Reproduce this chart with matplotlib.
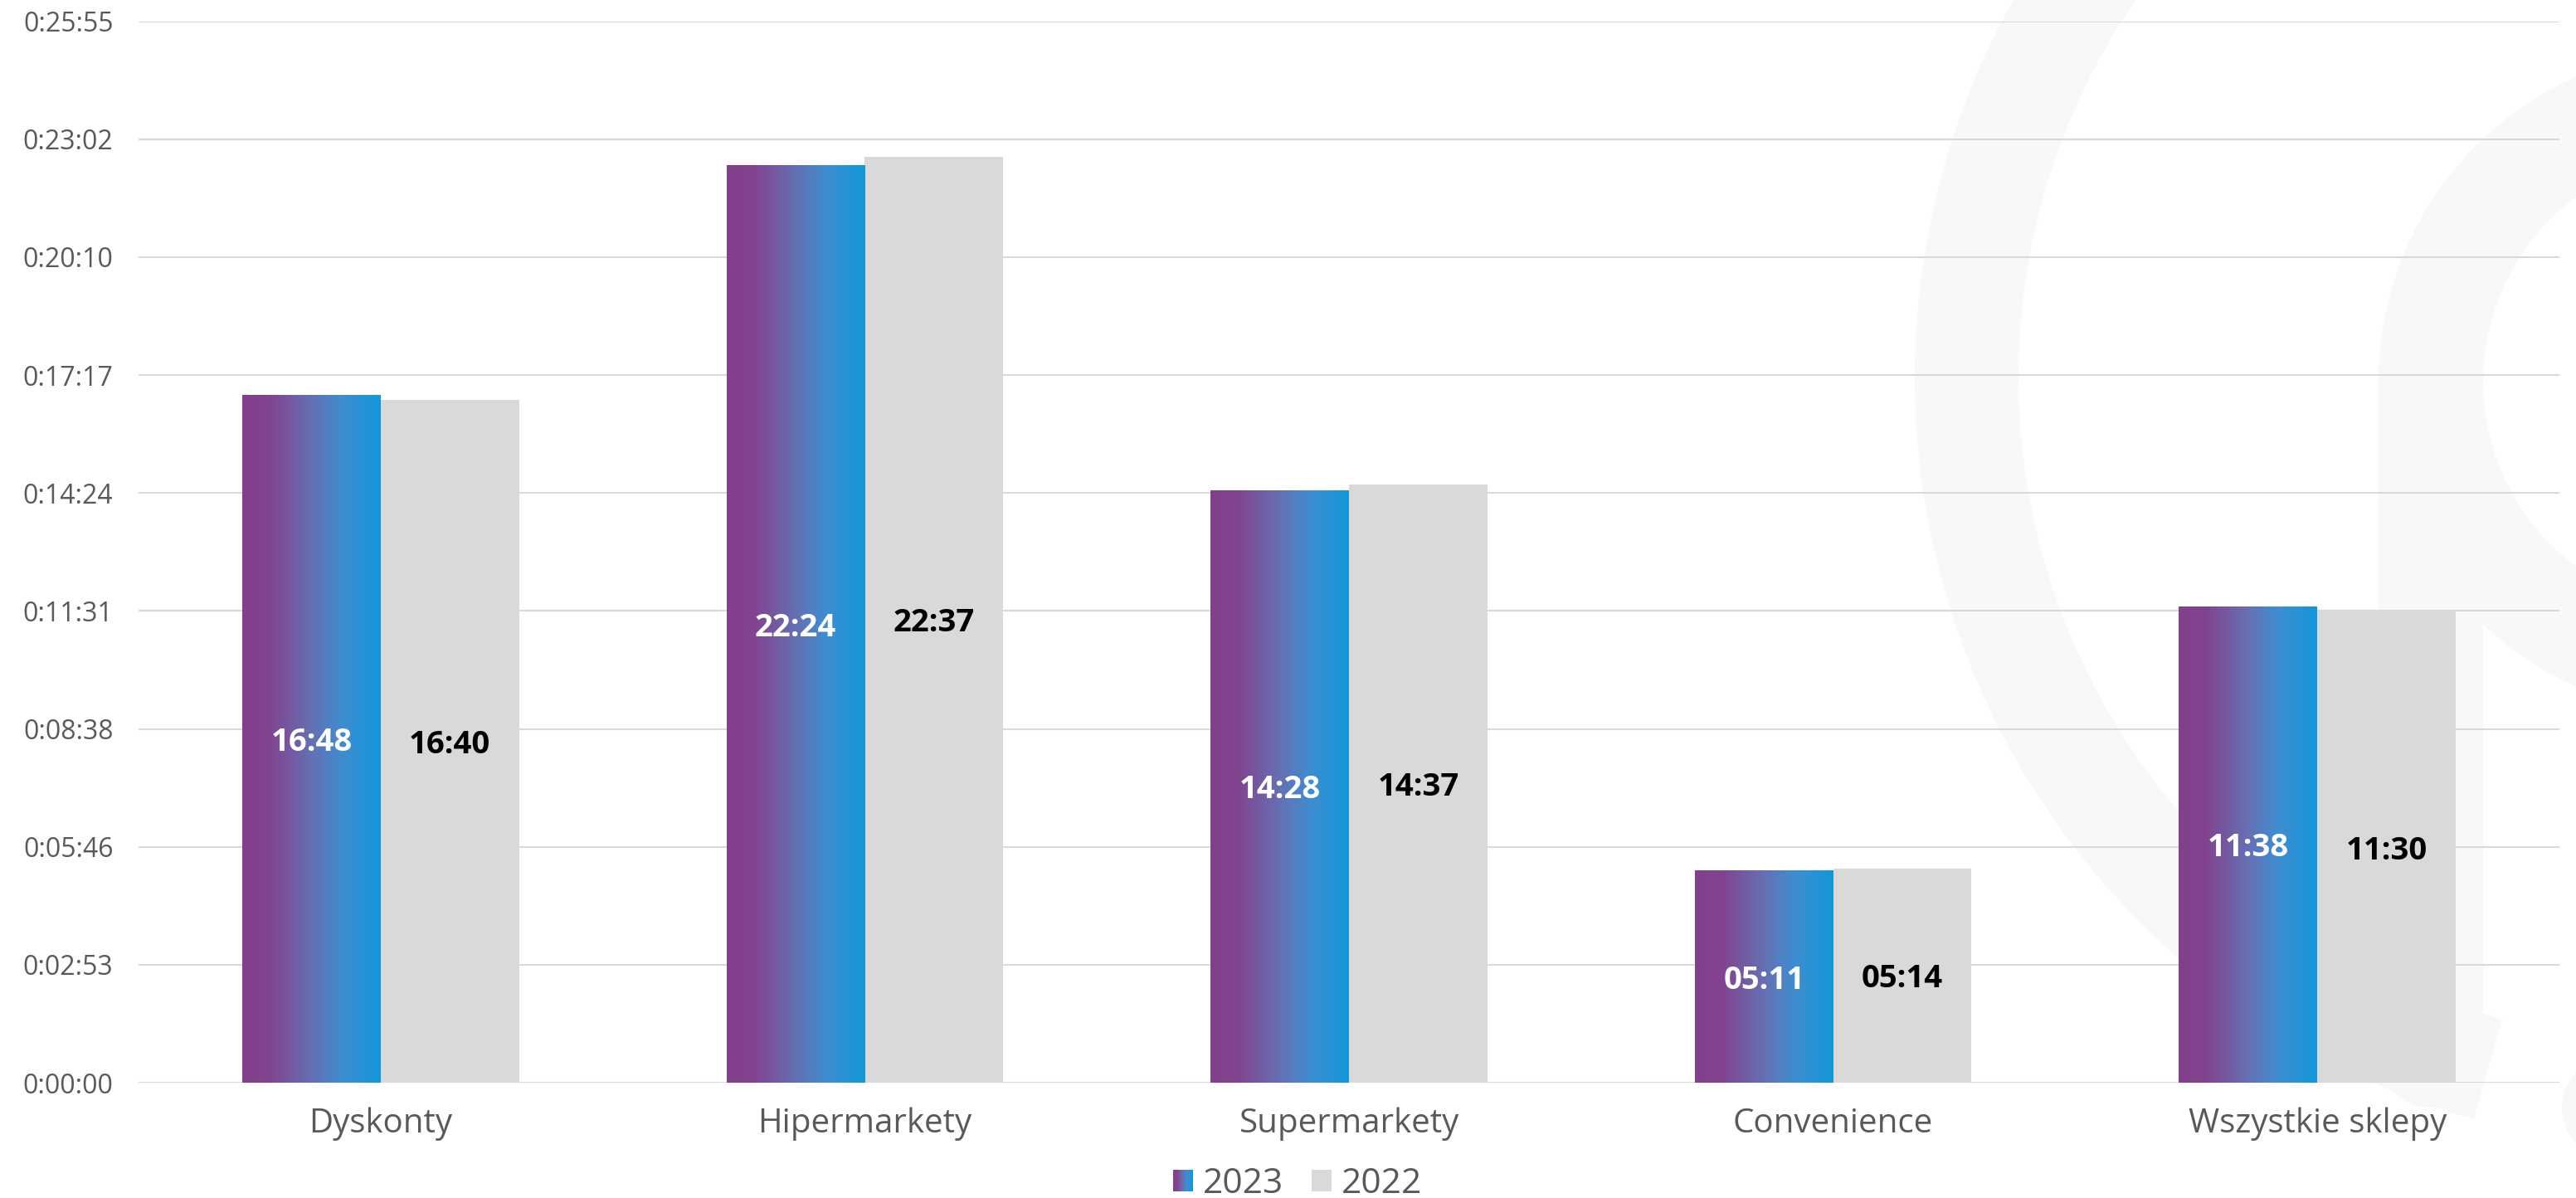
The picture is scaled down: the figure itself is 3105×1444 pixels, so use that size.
import numpy as np
import matplotlib.pyplot as plt
from matplotlib.colors import LinearSegmentedColormap
from matplotlib.patches import Rectangle, Wedge, Circle
from matplotlib.legend_handler import HandlerBase
from matplotlib.ticker import MultipleLocator, FuncFormatter

plt.rcParams['font.family'] = ['Open Sans', 'DejaVu Sans']

# average visit time per store format, mm:ss
categories = ['Dyskonty', 'Hipermarkety', 'Supermarkety', 'Convenience', 'Wszystkie sklepy']
times_2023 = ['16:48', '22:24', '14:28', '05:11', '11:38']
times_2022 = ['16:40', '22:37', '14:37', '05:14', '11:30']
series_names = ['2023', '2022']

# axis in seconds, Excel-style time steps (0.002 day)
y_step = 172.8
y_max = 1555.2


def to_seconds(t):
    m, s = t.split(':')
    return int(m) * 60 + int(s)


def hms(v, pos=None):
    v = int(round(v))
    return '%d:%02d:%02d' % (v // 3600, (v % 3600) // 60, v % 60)


vals_2023 = [to_seconds(t) for t in times_2023]
vals_2022 = [to_seconds(t) for t in times_2022]

grad = LinearSegmentedColormap.from_list('brand', [
    (0.0, '#833f8c'), (0.2, '#82448f'), (0.5, '#6570b4'),
    (0.72, '#3f8dd0'), (1.0, '#1198da')])
gray = '#d9d9d9'
text_gray = '#595959'

W, H = 3105, 1444
fig = plt.figure(figsize=(W / 100, H / 100), dpi=100)

# faint logo in the background, drawn in pixel coordinates
bg = fig.add_axes([0, 0, 1, 1], zorder=-1)
bg.set_xlim(0, W)
bg.set_ylim(H, 0)
bg.axis('off')
wm = '#f8f8f8'
bg.add_patch(Wedge((3238, 455), 930, 106, 300, width=125, facecolor=wm, edgecolor='none'))
bg.add_patch(Wedge((3270, 460), 403, 0, 360, width=126, facecolor=wm, edgecolor='none'))
bg.add_patch(Rectangle((2867, 460), 126, 812, facecolor=wm, edgecolor='none'))
bg.add_patch(Circle((2930, 1272), 63, facecolor=wm, edgecolor='none'))
bg.add_patch(Circle((3150, 1335), 62, facecolor=wm, edgecolor='none'))

ax = fig.add_axes([167 / W, 1 - 1305 / H, (3085 - 167) / W, (1305 - 25.7) / H])
ax.set_facecolor('none')

x = np.arange(len(categories))
w = 1 / 3.5

bars23 = ax.bar(x - w / 2, vals_2023, w, facecolor='none', edgecolor='none', zorder=2)
bars22 = ax.bar(x + w / 2, vals_2022, w, color=gray, edgecolor='none', zorder=2)

# horizontal gradient fill for the 2023 bars
g = np.linspace(0, 1, 256).reshape(1, -1)
for b in bars23:
    x0, h = b.get_x(), b.get_height()
    im = ax.imshow(g, cmap=grad, aspect='auto', extent=(x0, x0 + b.get_width(), 0, h),
                   zorder=2, interpolation='bilinear')
    im.set_clip_path(b)

for b, t in zip(bars23, times_2023):
    ax.text(b.get_x() + b.get_width() / 2, b.get_height() / 2, t, ha='center', va='center_baseline',
            fontsize=27.5, fontweight='bold', color='white', zorder=3)
for b, t in zip(bars22, times_2022):
    ax.text(b.get_x() + b.get_width() / 2, b.get_height() / 2, t, ha='center', va='center_baseline',
            fontsize=27.5, fontweight='bold', color='black', zorder=3)

ax.set_xlim(-0.5, len(categories) - 0.5)
ax.set_ylim(0, y_max)
ax.yaxis.set_major_locator(MultipleLocator(y_step))
ax.yaxis.set_major_formatter(FuncFormatter(hms))
ax.set_xticks(x)
ax.set_xticklabels(categories)
ax.tick_params(axis='y', length=0, pad=22, labelsize=23, labelcolor=text_gray)
ax.tick_params(axis='x', length=0, pad=21, labelsize=29, labelcolor=text_gray)
ax.grid(axis='y', color=gray, linewidth=1.5)
ax.set_axisbelow(True)
for s in ax.spines.values():
    s.set_visible(False)


class GradientHandler(HandlerBase):
    def create_artists(self, legend, orig_handle, xdescent, ydescent, width, height, fontsize, trans):
        n = 24
        arts = []
        for i in range(n):
            arts.append(Rectangle((-xdescent + width * i / n, -ydescent), width / n * 1.1, height,
                                  facecolor=grad(i / (n - 1)), edgecolor='none', transform=trans))
        return arts


h23 = Rectangle((0, 0), 1, 1)
h22 = Rectangle((0, 0), 1, 1, facecolor=gray, edgecolor='none')
fig.legend([h23, h22], series_names, handler_map={h23: GradientHandler()},
           loc='center', bbox_to_anchor=(1564 / W, 1 - 1427 / H), ncol=2, frameon=False,
           fontsize=30.5, labelcolor=text_gray, handlelength=0.57, handleheight=0.57,
           handletextpad=0.28, columnspacing=0.8, borderpad=0, borderaxespad=0)

fig.savefig('out.png', dpi=100)
